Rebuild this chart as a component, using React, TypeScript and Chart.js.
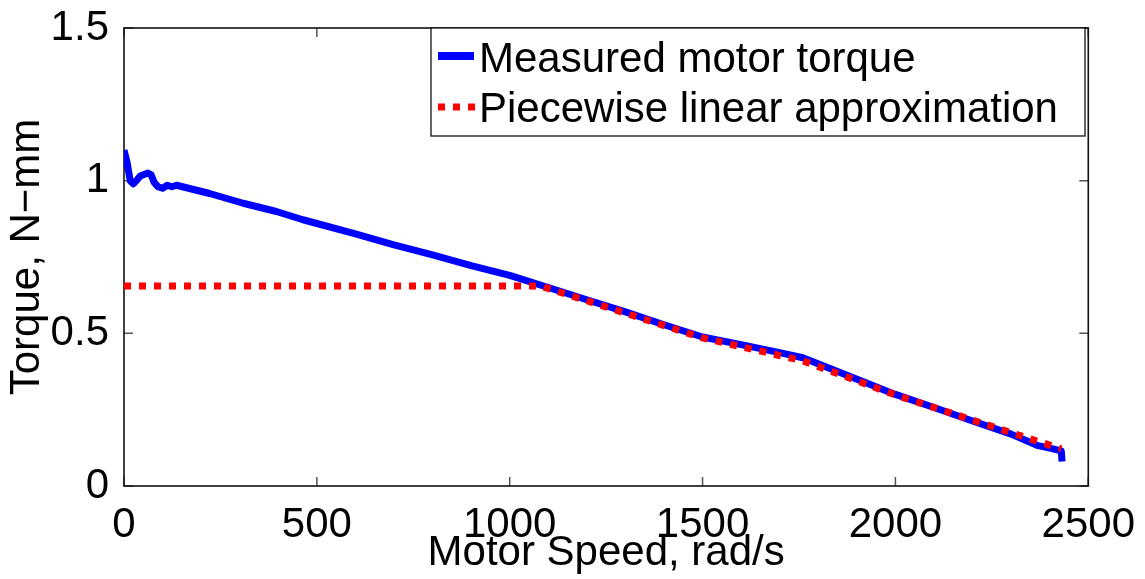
import React, { useEffect, useRef } from "react";
import { Chart, registerables } from "chart.js";

Chart.register(...registerables);

// ---- data ----
const measuredSpeed = [0, 8, 16, 24, 32, 42, 52, 62, 70, 78, 88, 100, 112, 124, 136, 222, 309, 395, 464, 600, 700, 800, 900, 1000, 1100, 1200, 1300, 1400, 1500, 1600, 1700, 1760, 1850, 2000, 2100, 2200, 2300, 2370, 2400, 2430, 2432];
const measuredTorque = [1.10, 1.06, 1.0, 0.99, 1.0, 1.015, 1.02, 1.025, 1.02, 0.995, 0.98, 0.975, 0.985, 0.98, 0.985, 0.958, 0.926, 0.899, 0.872, 0.826, 0.79, 0.757, 0.722, 0.69, 0.65, 0.61, 0.57, 0.528, 0.488, 0.463, 0.437, 0.42, 0.375, 0.30, 0.257, 0.213, 0.17, 0.132, 0.124, 0.115, 0.08];

const approxSpeed = [0, 1080, 1500, 1760, 2000, 2370, 2430];
const approxTorque = [0.655, 0.655, 0.485, 0.41, 0.298, 0.146, 0.122];

const xTicks = [0, 500, 1000, 1500, 2000, 2500];
const yTicks = [0, 0.5, 1, 1.5];
const legendLabels = ["Measured motor torque", "Piecewise linear approximation"];
const xTitle = "Motor Speed, rad/s";
const yTitle = "Torque, N\u2212mm";

const FONT = "'Liberation Sans', Arial, Helvetica, sans-serif";
const BLUE = "#0000ff";
const RED = "#ff0000";

const toPoints = (xs: number[], ys: number[]) => xs.map((x, i) => ({ x, y: ys[i] }));

const framePlugin = {
  id: "frameTicks",
  beforeDatasetsDraw(chart: any) {
    const { ctx, chartArea: a, scales } = chart;
    const L = 9;
    ctx.save();
    ctx.strokeStyle = "#555";
    ctx.lineWidth = 1.5;
    ctx.beginPath();
    xTicks.forEach((v) => {
      const px = scales.x.getPixelForValue(v);
      ctx.moveTo(px, a.bottom);
      ctx.lineTo(px, a.bottom - L);
      ctx.moveTo(px, a.top);
      ctx.lineTo(px, a.top + L);
    });
    yTicks.forEach((v) => {
      const py = scales.y.getPixelForValue(v);
      ctx.moveTo(a.left, py);
      ctx.lineTo(a.left + L, py);
      ctx.moveTo(a.right, py);
      ctx.lineTo(a.right - L, py);
    });
    ctx.stroke();
    ctx.strokeStyle = "#111";
    ctx.lineWidth = 1.6;
    ctx.strokeRect(a.left, a.top, a.right - a.left, a.bottom - a.top);
    ctx.restore();
  },
};

const legendPlugin = {
  id: "boxLegend",
  afterDraw(chart: any) {
    const { ctx } = chart;
    const bx = 431, by = 28, bw = 654, bh = 108;
    ctx.save();
    ctx.fillStyle = "#fff";
    ctx.fillRect(bx, by, bw, bh);
    ctx.strokeStyle = "#111";
    ctx.lineWidth = 1.3;
    ctx.strokeRect(bx, by, bw, bh);

    ctx.lineCap = "butt";
    ctx.lineWidth = 8;
    ctx.strokeStyle = BLUE;
    ctx.beginPath();
    ctx.moveTo(438, 56);
    ctx.lineTo(474, 56);
    ctx.stroke();

    ctx.lineWidth = 7;
    ctx.strokeStyle = RED;
    ctx.setLineDash([7, 8]);
    ctx.beginPath();
    ctx.moveTo(438, 107);
    ctx.lineTo(475, 107);
    ctx.stroke();
    ctx.setLineDash([]);

    ctx.fillStyle = "#000";
    ctx.font = `42px ${FONT}`;
    ctx.textBaseline = "alphabetic";
    ctx.textAlign = "left";
    ctx.fillText(legendLabels[0], 479, 72);
    ctx.fillText(legendLabels[1], 479, 122);
    ctx.restore();
  },
};

export default function App() {
  const canvasRef = useRef<HTMLCanvasElement | null>(null);

  useEffect(() => {
    const canvas = canvasRef.current;
    if (!canvas) return;
    const chart = new Chart(canvas, {
      type: "line",
      data: {
        datasets: [
          {
            label: legendLabels[0],
            data: toPoints(measuredSpeed, measuredTorque),
            borderColor: BLUE,
            backgroundColor: BLUE,
            borderWidth: 7,
            pointRadius: 0,
            tension: 0,
            borderJoinStyle: "round",
            borderCapStyle: "butt",
            order: 1,
          },
          {
            label: legendLabels[1],
            data: toPoints(approxSpeed, approxTorque),
            borderColor: RED,
            backgroundColor: RED,
            borderWidth: 7,
            borderDash: [7, 8],
            borderCapStyle: "butt",
            pointRadius: 0,
            tension: 0,
            order: 0,
          },
        ],
      },
      options: {
        animation: false,
        responsive: false,
        devicePixelRatio: 1,
        layout: { padding: { left: 0, right: 55, top: 23, bottom: 0 } },
        plugins: { legend: { display: false }, tooltip: { enabled: false } },
        scales: {
          x: {
            type: "linear",
            min: 0,
            max: 2500,
            grid: { display: false },
            border: { display: false },
            afterFit: (s: any) => { s.height = 93; },
            afterBuildTicks: (s: any) => { s.ticks = xTicks.map((v) => ({ value: v })); },
            ticks: {
              color: "#000",
              padding: 10,
              maxRotation: 0,
              autoSkip: false,
              font: { family: FONT, size: 42, lineHeight: 1 },
              callback: (v: any) => String(v),
            },
            title: {
              display: true,
              text: xTitle,
              color: "#000",
              padding: { top: 0, bottom: 5 },
              font: { family: FONT, size: 42, lineHeight: 1 },
            },
          },
          y: {
            type: "linear",
            min: 0,
            max: 1.5,
            grid: { display: false },
            border: { display: false },
            afterFit: (s: any) => { s.width = 124; },
            afterBuildTicks: (s: any) => { s.ticks = yTicks.map((v) => ({ value: v })); },
            ticks: {
              color: "#000",
              padding: 7,
              autoSkip: false,
              font: { family: FONT, size: 42, lineHeight: 1 },
              callback: (v: any) => String(v),
            },
            title: {
              display: true,
              text: yTitle,
              color: "#000",
              padding: { top: 6, bottom: 0 },
              font: { family: FONT, size: 42, lineHeight: 1 },
            },
          },
        },
      },
      plugins: [framePlugin, legendPlugin],
    });
    return () => chart.destroy();
  }, []);

  return (
    <div style={{ position: "absolute", left: 0, top: 0, width: 1145, height: 579, background: "#fff" }}>
      <canvas ref={canvasRef} width={1145} height={579} style={{ display: "block" }} />
    </div>
  );
}
